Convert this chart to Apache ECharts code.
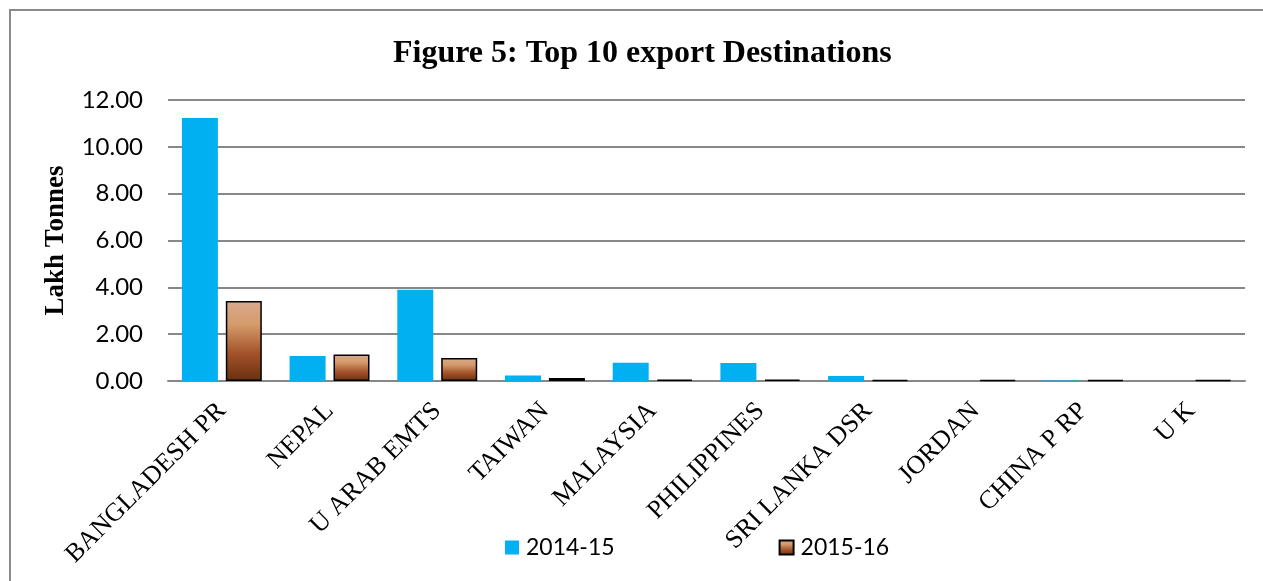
<!DOCTYPE html>
<html>
<head>
<meta charset="utf-8">
<script src="https://cdn.jsdelivr.net/npm/echarts@6/dist/echarts.min.js"></script>
<style>
html,body{margin:0;padding:0;background:#fff;}
#main{width:1263px;height:581px;}
</style>
</head>
<body>
<div id="main"></div>
<script>
const categories = ['BANGLADESH PR','NEPAL','U ARAB EMTS','TAIWAN','MALAYSIA','PHILIPPINES','SRI LANKA DSR','JORDAN','CHINA P RP','U K'];
const series2014 = [11.23, 1.07, 3.90, 0.23, 0.78, 0.77, 0.21, 0.00, 0.02, 0.00];
const series2015 = [3.42, 1.13, 0.98, 0.13, 0.06, 0.06, 0.04, 0.04, 0.04, 0.04];
const yTicks = [0, 2, 4, 6, 8, 10, 12];

const chart = echarts.init(document.getElementById('main'));
const brown = new echarts.graphic.LinearGradient(0, 0, 0, 1, [
  {offset: 0, color: '#d9ab8f'},
  {offset: 0.3, color: '#d49a6a'},
  {offset: 0.65, color: '#a4532a'},
  {offset: 1, color: '#68300f'}
]);
chart.setOption({
  animation: false,
  title: {
    text: 'Figure 5: Top 10 export Destinations',
    left: 388, top: 33,
    textStyle: {fontFamily: 'Liberation Serif', fontWeight: 'bold', fontSize: 32, color: '#000'}
  },
  graphic: [{
    type: 'rect', shape: {x: 10, y: 10, width: 1300, height: 620},
    style: {fill: 'none', stroke: '#8a8a8a', lineWidth: 2}, silent: true
  }],
  legend: {
    bottom: 17, left: 500, itemGap: 164, itemWidth: 14, itemHeight: 14,
    icon: 'rect',
    textStyle: {fontFamily: 'Lato', fontSize: 23, color: '#000', padding: [0, 0, 0, 2]},
    data: ['2014-15', '2015-16']
  },
  grid: {left: 168, right: 18, top: 100, bottom: 200},
  xAxis: {
    type: 'category', data: categories,
    axisLine: {lineStyle: {color: '#888', width: 2}},
    axisTick: {show: false},
    axisLabel: {rotate: 45, interval: 0, margin: 26, fontFamily: 'Liberation Serif', fontSize: 26, color: '#000'}
  },
  yAxis: {
    type: 'value', min: yTicks[0], max: yTicks[yTicks.length-1], interval: 2,
    name: 'Lakh Tonnes', nameLocation: 'middle', nameGap: 98, nameRotate: 90,
    nameTextStyle: {fontFamily: 'Liberation Serif', fontWeight: 'bold', fontSize: 27, color: '#000'},
    axisLine: {show: false}, axisTick: {show: false},
    splitLine: {lineStyle: {color: '#888', width: 2}},
    axisLabel: {formatter: v => v.toFixed(2), margin: 25, fontFamily: 'Lato', fontSize: 24, color: '#000'}
  },
  series: [
    {name: '2014-15', type: 'bar', data: series2014, barWidth: 36, barGap: '22%',
     itemStyle: {color: '#00b0f0'}},
    {name: '2015-16', type: 'bar', data: series2015, barWidth: 36,
     itemStyle: {color: brown, borderColor: '#000', borderWidth: 1.5}}
  ]
});
</script>
</body>
</html>
